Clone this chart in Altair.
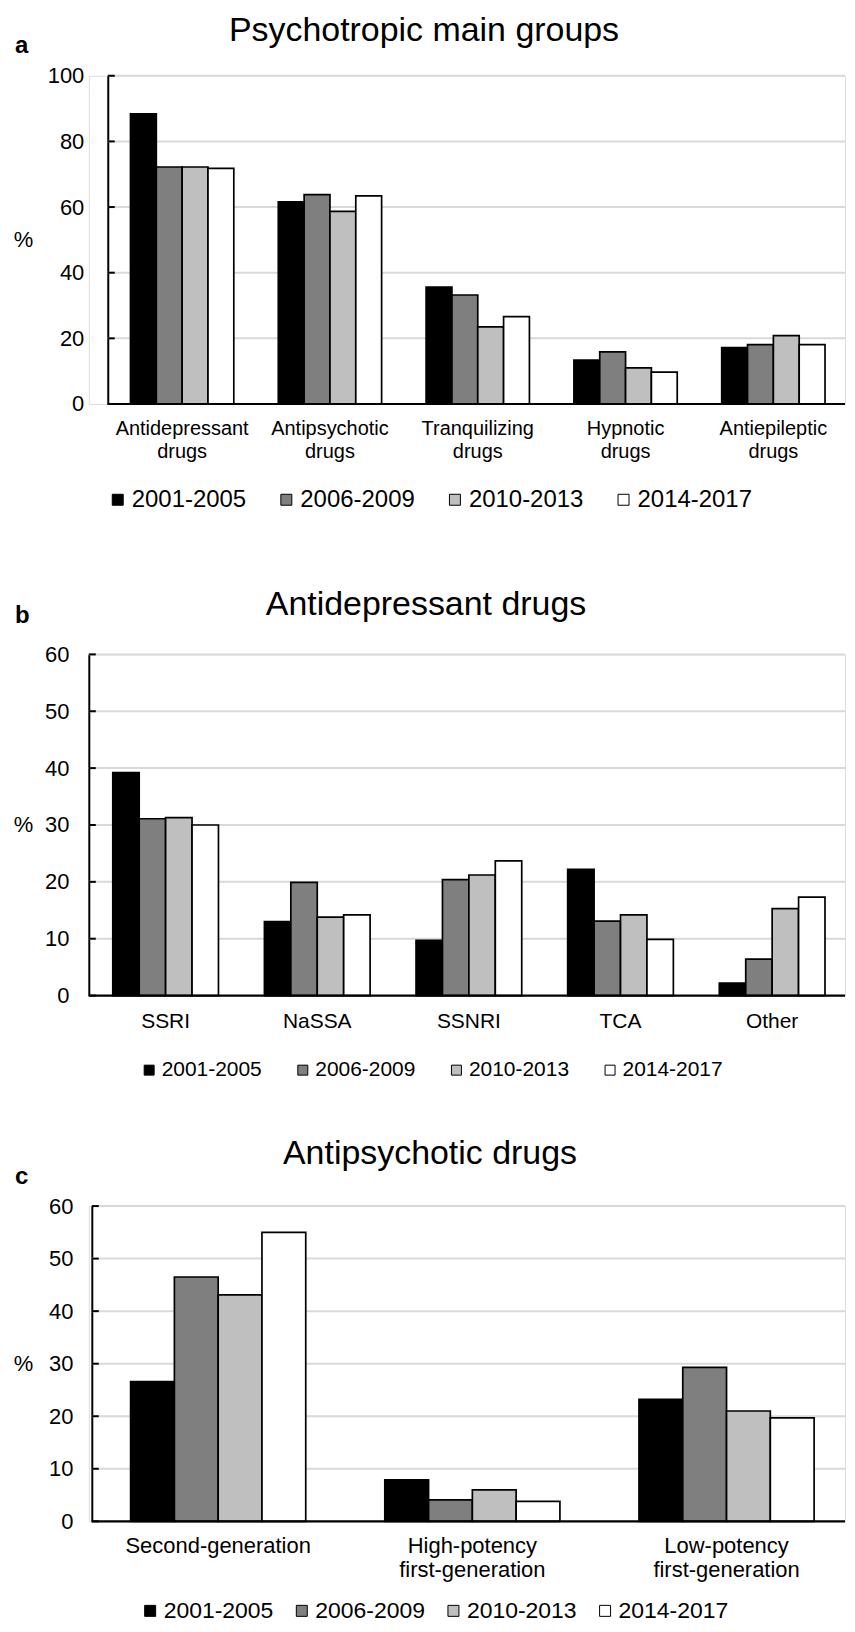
import altair as alt
import pandas as pd

FONT = "Liberation Sans"

periods = ["2001-2005", "2006-2009", "2010-2013", "2014-2017"]
fills = ["#000000", "#7f7f7f", "#bfbfbf", "#ffffff"]

# Panel a
a_groups = ["Antidepressant drugs", "Antipsychotic drugs", "Tranquilizing drugs",
            "Hypnotic drugs", "Antiepileptic drugs"]
a_p1 = [88.4, 61.6, 35.6, 13.4, 17.2]
a_p2 = [72.2, 63.8, 33.2, 15.9, 18.1]
a_p3 = [72.2, 58.7, 23.5, 11.0, 20.8]
a_p4 = [71.8, 63.4, 26.6, 9.7, 18.1]
a_ticks = [0, 20, 40, 60, 80, 100]

# Panel b
b_groups = ["SSRI", "NaSSA", "SSNRI", "TCA", "Other"]
b_p1 = [39.2, 13.0, 9.7, 22.2, 2.2]
b_p2 = [31.1, 19.9, 20.4, 13.1, 6.4]
b_p3 = [31.3, 13.8, 21.2, 14.2, 15.3]
b_p4 = [30.0, 14.2, 23.7, 9.9, 17.3]
b_ticks = [0, 10, 20, 30, 40, 50, 60]

# Panel c
c_groups = ["Second-generation", "High-potency first-generation", "Low-potency first-generation"]
c_p1 = [26.6, 7.9, 23.2]
c_p2 = [46.5, 4.1, 29.3]
c_p3 = [43.1, 6.0, 21.0]
c_p4 = [55.0, 3.8, 19.7]
c_ticks = [0, 10, 20, 30, 40, 50, 60]

LEFT = 88  # page x of every plot area's left edge


def panel(groups, series, ticks, title, letter, L):
    rows = [{"group": g, "period": p, "value": series[j][i]}
            for i, g in enumerate(groups) for j, p in enumerate(periods)]
    df = pd.DataFrame(rows)
    w, h, ax = L["w"], L["h"], L["ax"]
    ysc = alt.Scale(domain=[0, ticks[-1]], nice=False)
    yax = alt.Axis(values=ticks, title="%", titleAngle=0, titleAlign="center",
                   titleBaseline="middle", titleX=22 - LEFT - ax, titleY=h / 2,
                   titleFontSize=22, titleFontWeight="normal", titleFont=FONT,
                   titleColor="black", labelFontSize=22, labelFont=FONT,
                   labelColor="black", labelPadding=L["ypad"], tickSize=0,
                   domainColor="black", domainWidth=2, grid=False, offset=-ax)
    Y = lambda: alt.Y("value:Q", scale=ysc, axis=yax)

    grid = alt.Chart(pd.DataFrame({"value": ticks[1:]})).mark_rule(
        color="#d9d9d9", strokeWidth=2).encode(
        y=Y(), x=alt.value(ax), x2=alt.value(w))
    bars = alt.Chart(df).mark_bar(stroke="black", strokeWidth=1.7).encode(
        x=alt.X("group:N", sort=groups, title=None,
                scale=alt.Scale(paddingInner=L["pi"], paddingOuter=L["po"], align=L["al"]),
                axis=alt.Axis(labelAngle=0, labelExpr="split(datum.label, ' ')",
                              labelFontSize=L["xfs"], labelLineHeight=L["xlh"],
                              labelPadding=L["xpad"], ticks=False, domain=False,
                              grid=False, labelColor="black", labelFont=FONT,
                              labelLimit=400)),
        xOffset=alt.XOffset("period:N", sort=periods),
        y=Y(),
        color=alt.Color("period:N", sort=periods,
                        scale=alt.Scale(domain=periods, range=fills),
                        legend=alt.Legend(title=None, orient="none", legendX=L["lx"],
                                          legendY=L["ly"], direction="horizontal",
                                          symbolType="square", symbolSize=L["ss"],
                                          symbolStrokeColor="black", symbolStrokeWidth=1,
                                          labelFontSize=L["lfs"], labelFont=FONT,
                                          labelColor="black", columnPadding=L["lpad"],
                                          labelOffset=2, padding=0)),
    )
    base = alt.Chart(pd.DataFrame({"value": [0]})).mark_rule(
        color="black", strokeWidth=2.2).encode(
        y=Y(), x=alt.value(ax), x2=alt.value(w))
    tk = alt.Chart(pd.DataFrame({"value": ticks})).mark_rule(
        color="black", strokeWidth=2).encode(
        y=Y(), x=alt.value(ax), x2=alt.value(ax + 7))
    ttl = alt.Chart(pd.DataFrame({"t": [title]})).mark_text(
        font=FONT, fontSize=34, align="center", baseline="middle", color="black").encode(
        text="t:N", x=alt.value(L["tc"] - LEFT), y=alt.value(L["ty"]))
    let = alt.Chart(pd.DataFrame({"t": [letter]})).mark_text(
        font=FONT, fontSize=24, fontWeight="bold", align="left", baseline="middle",
        color="black").encode(
        text="t:N", x=alt.value(14 - LEFT), y=alt.value(L["ley"]))
    spacer = alt.Chart(pd.DataFrame({"s": [0]})).mark_rule(
        opacity=0, strokeWidth=0.5).encode(
        x=alt.value(8 - LEFT), y=alt.value(L["st"]), y2=alt.value(L["sb"]))
    return alt.layer(grid, bars, base, tk, ttl, let, spacer).properties(width=w, height=h)


# plot tops (page): a 73, b 651, c 1202 ; row boundaries at 550 and 1110
La = dict(w=758, h=329, ax=19, pi=0.301, po=0.2086, al=0.676, tc=424, ty=-45, ley=-30,
          ypad=24, xfs=20, xlh=23, xpad=15, lx=17, ly=413, lfs=24, ss=121, lpad=28,
          st=-65, sb=477)
Lb = dict(w=758, h=342, ax=0, pi=0.303, po=0.145, al=0.545, tc=426, ty=-49, ley=-38,
          ypad=20, xfs=21, xlh=23, xpad=15, lx=50, ly=406, lfs=21, ss=100, lpad=30,
          st=-101, sb=459)
Lc = dict(w=758, h=316, ax=3, pi=0.311, po=0.143, al=0.575, tc=430, ty=-52, ley=-29,
          ypad=19, xfs=22, xlh=24, xpad=14, lx=50, ly=394, lfs=23, ss=121, lpad=17,
          st=-92, sb=0)

pa = panel(a_groups, [a_p1, a_p2, a_p3, a_p4], a_ticks, "Psychotropic main groups", "a", La)
pb = panel(b_groups, [b_p1, b_p2, b_p3, b_p4], b_ticks, "Antidepressant drugs", "b", Lb)
pc = panel(c_groups, [c_p1, c_p2, c_p3, c_p4], c_ticks, "Antipsychotic drugs", "c", Lc)

chart = alt.ConcatChart(concat=[pa, pb, pc], columns=1, spacing=0, align="none",
                        padding=0).resolve_scale(
    color="independent", xOffset="independent", x="independent", y="independent"
).resolve_legend(color="independent").configure_view(stroke=None).configure(font=FONT)

chart.save("out.html", embed_options={"renderer": "svg", "actions": False})
